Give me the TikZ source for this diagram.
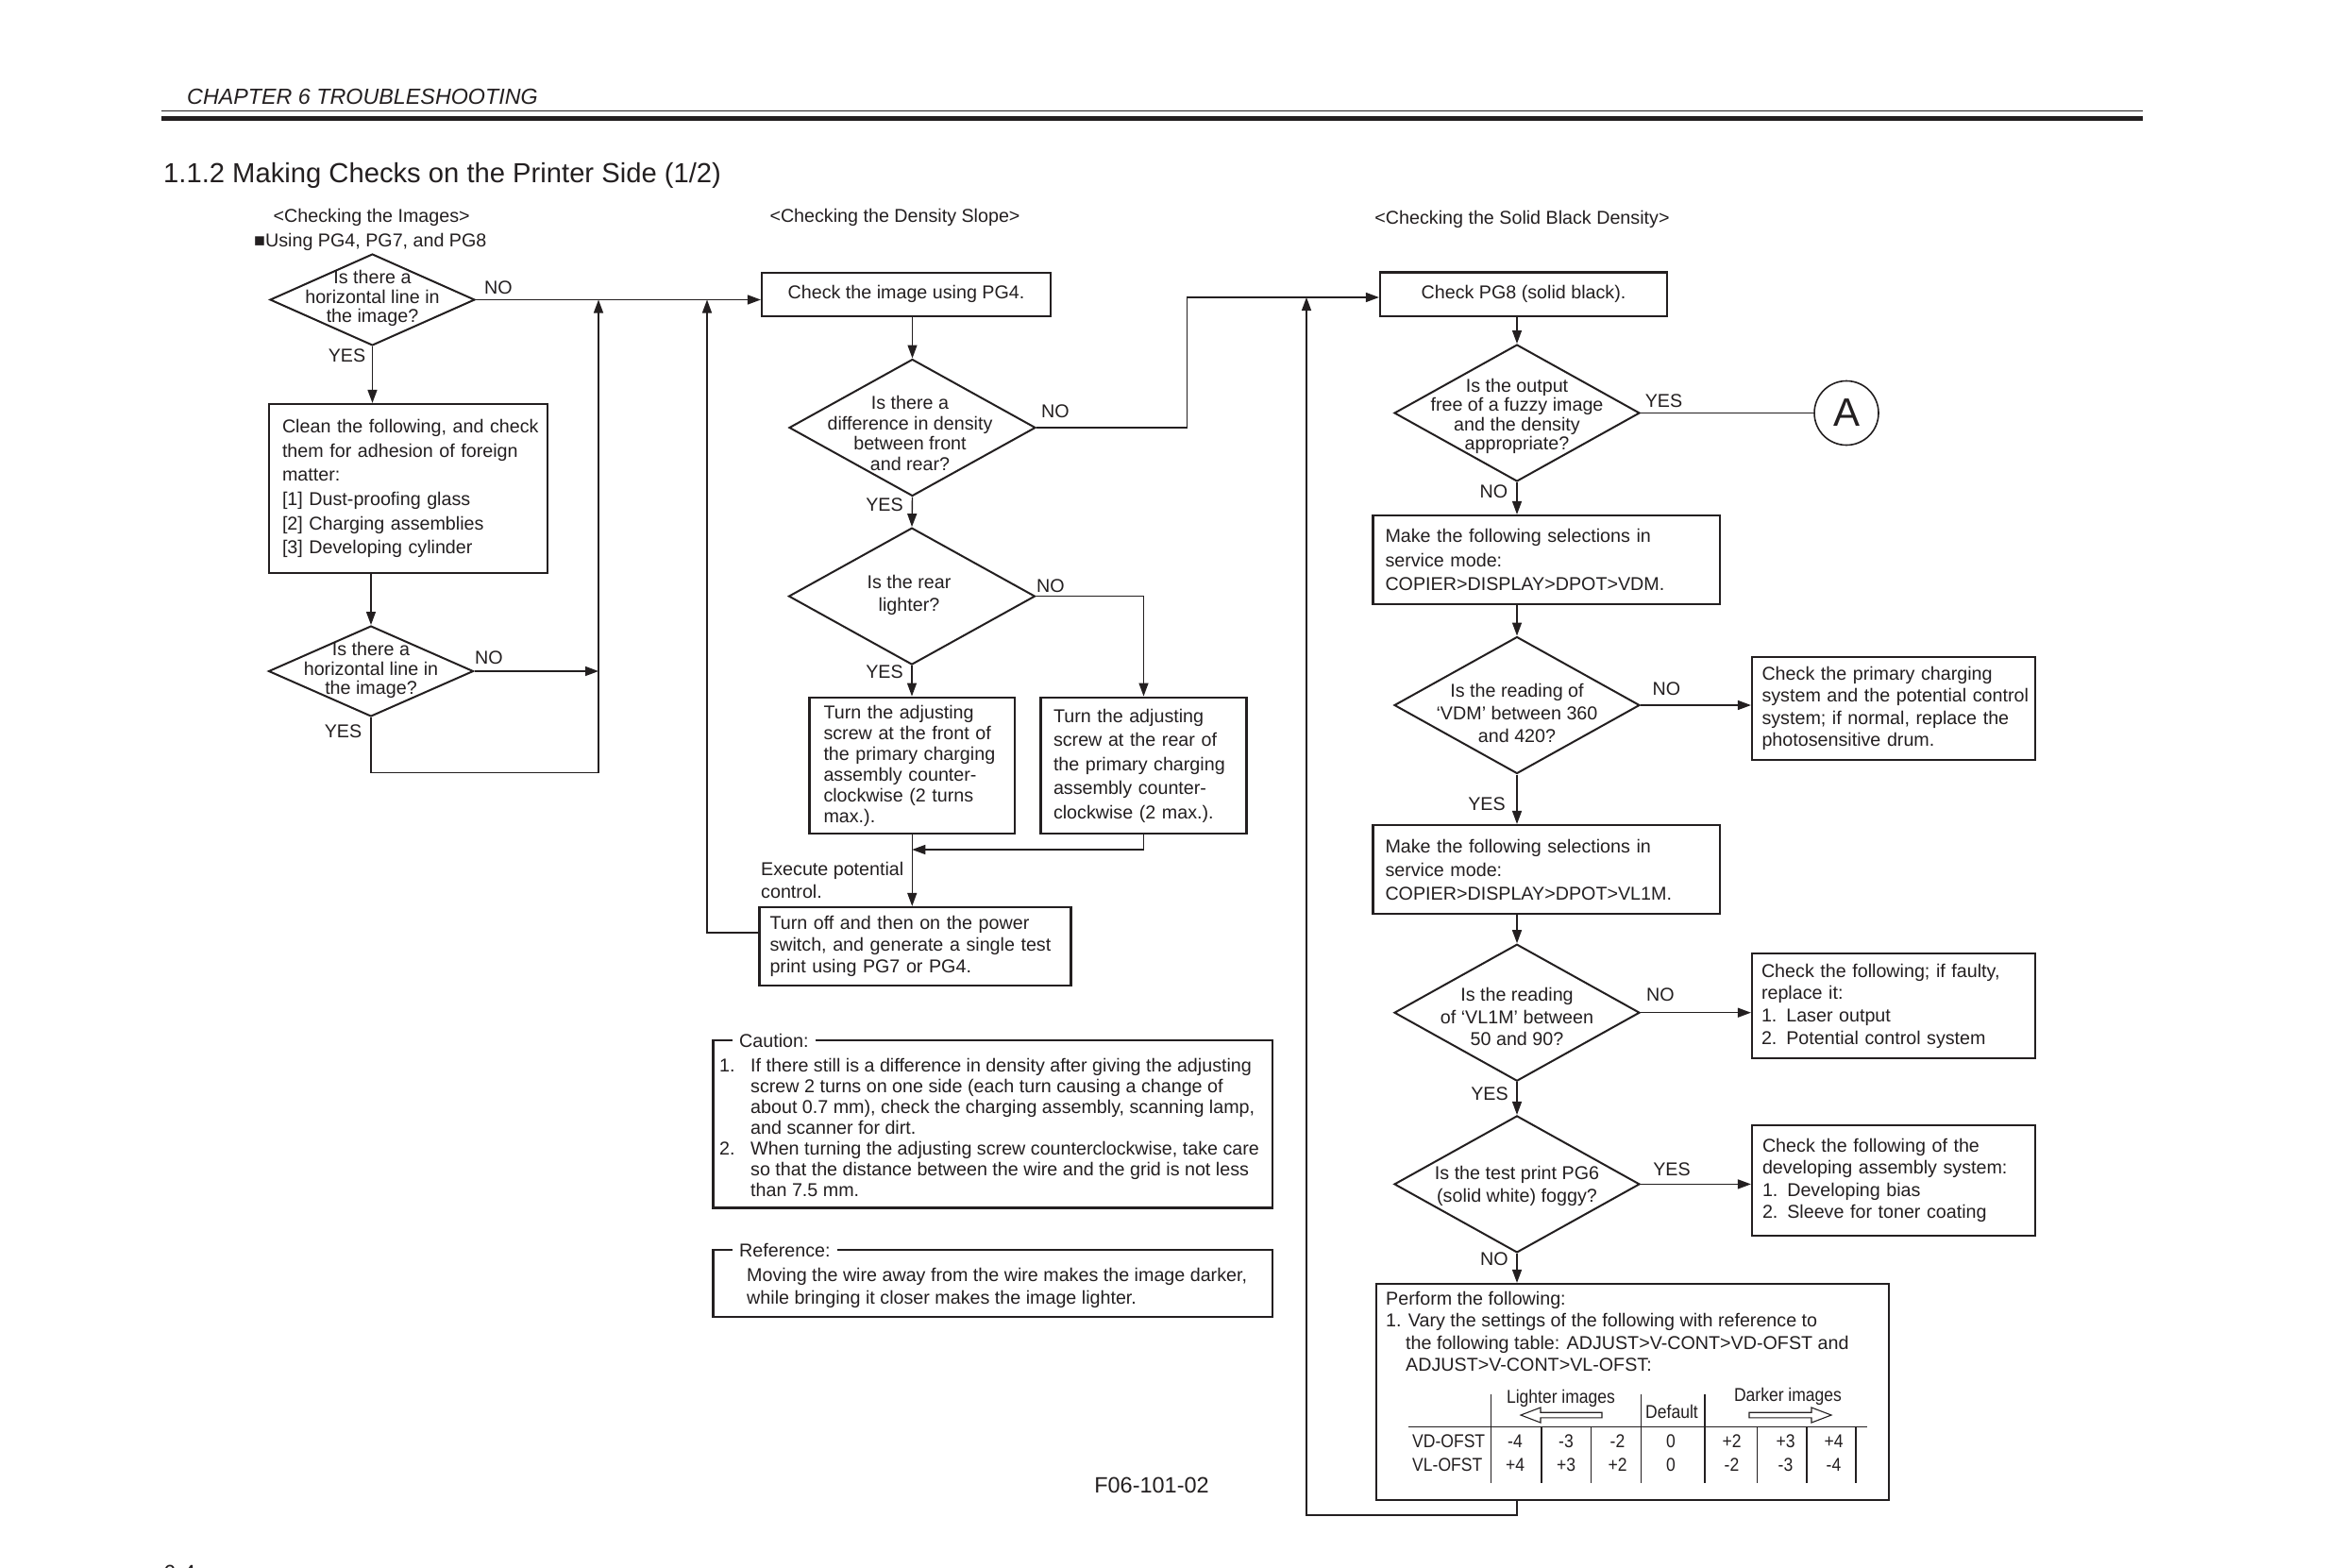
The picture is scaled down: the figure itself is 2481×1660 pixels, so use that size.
\documentclass[tikz,border=0pt]{standalone}
\usepackage{fontspec}
\setmainfont{Liberation Sans}
\newfontfamily\narrowf[FakeStretch=0.89]{Liberation Sans}
\usetikzlibrary{arrows.meta,shapes.geometric}
\definecolor{ink}{RGB}{35,31,32}
\newcommand\fsz[2]{\fontsize{#1}{#2}\selectfont}
\newcommand\nbl[1]{\mbox{#1}}
\tikzset{
  conn/.style={draw=ink, line width=1.4pt},
  arr/.style={conn, -{Triangle[length=14pt,width=10pt]}},
  lab/.style={inner sep=0pt, text=ink, font=\fsz{19.7}{23}},
  box/.style={draw=ink, line width=2.2pt, inner ysep=0pt, align=left, text=ink},
  cbox/.style={draw=ink, line width=2.2pt, inner sep=0pt, align=center, text=ink, font=\fsz{19.7}{23}},
  panel/.style={draw=ink, line width=2.2pt, inner sep=0pt},
  dia/.style={draw=ink, line width=2pt, diamond, inner sep=0pt},
  dtext/.style={align=center, inner sep=0pt, text=ink},
  tab/.style={inner sep=0pt, text=ink, font=\narrowf\fsz{19.7}{23}},
  tline/.style={draw=ink, line width=1.2pt},
}
\begin{document}
\begin{tikzpicture}[x=1pt,y=-1pt]
\useasboundingbox (0,0) rectangle (2481,1660);
\fill[white] (0,0) rectangle (2481,1660);

% header
\node[anchor=base west, inner sep=0pt, text=ink, font=\itshape\fsz{23.3}{26}] (hdr) at (198,110) {CHAPTER 6 TROUBLESHOOTING};
\draw[ink, line width=1.6pt] (171,117.5) -- (2270,117.5);
\draw[ink, line width=5.5pt] (171,125.3) -- (2270,125.3);
\node[anchor=base west, inner sep=0pt, text=ink, font=\fsz{29.2}{32}] (title) at (173,193) {1.1.2 Making Checks on the Printer Side (1/2)};

% section headings
\node[lab, anchor=base] (h1) at (393.7,235) {<Checking the Images>};
\node[lab, anchor=base west] (use) at (269,261.5) {■Using PG4, PG7, and PG8};
\node[lab, anchor=base] (h2) at (948,235) {<Checking the Density Slope>};
\node[lab, anchor=base] (h3) at (1612.5,237) {<Checking the Solid Black Density>};

% ---------- left column ----------
\node[dia, minimum width=217pt, minimum height=97pt] (d1) at (394.5,317.5) {};
\node[dtext, font=\fsz{19.7}{20.6}] (d1t) at (394.5,316.2) {Is there a\\horizontal line in\\the image?};
\node[box, minimum width=295pt, minimum height=179pt, text width=267pt, inner xsep=14pt, font=\fsz{19.7}{25.6}] (b1) at (432.5,517.5)
 {\nbl{Clean the following, and check}\\\nbl{them for adhesion of foreign}\\\nbl{matter:}\\\nbl{[1] Dust-proofing glass}\\\nbl{[2] Charging assemblies}\\\nbl{[3] Developing cylinder}};
\node[dia, minimum width=217pt, minimum height=96pt] (d2) at (393,711) {};
\node[dtext, font=\fsz{19.7}{20.6}] (d2t) at (393,710) {Is there a\\horizontal line in\\the image?};

\node[lab] (n1) at (528,305) {NO};
\node[lab] (y1) at (367.5,377) {YES};
\node[lab] (n2) at (518,697) {NO};
\node[lab] (y2) at (363.5,775) {YES};

% ---------- middle column ----------
\node[cbox, minimum width=306pt, minimum height=46pt] (c1) at (960,311.6) {Check the image using PG4.};
\node[dia, minimum width=261pt, minimum height=145pt] (d3) at (966.5,453) {};
\node[dtext, font=\fsz{19.7}{21.8}] (d3t) at (964,459) {Is there a\\difference in density\\between front\\and rear?};
\node[dia, minimum width=261pt, minimum height=145pt] (d4) at (966,631.6) {};
\node[dtext, font=\fsz{19.7}{24}] (d4t) at (963,630) {Is the rear\\lighter?};
\node[box, minimum width=217.5pt, minimum height=144.7pt, text width=187.5pt, inner xsep=15pt, font=\fsz{19.7}{22}] (b3) at (966.25,811)
 {\nbl{Turn the adjusting}\\\nbl{screw at the front of}\\\nbl{the primary charging}\\\nbl{assembly counter-}\\\nbl{clockwise (2 turns}\\\nbl{max.).}};
\node[box, minimum width=218pt, minimum height=144.7pt, text width=191pt, inner xsep=13.5pt, font=\fsz{19.7}{25.5}] (b4) at (1211.5,811)
 {\nbl{Turn the adjusting}\\\nbl{screw at the rear of}\\\nbl{the primary charging}\\\nbl{assembly counter-}\\\nbl{clockwise (2 max.).}};
\node[lab, anchor=north west, align=left, font=\fsz{19.7}{24}] (ex) at (806,913.5) {Execute potential\\control.};
\node[box, minimum width=330pt, minimum height=83pt, text width=308pt, inner xsep=11pt, font=\fsz{19.7}{23}] (b5) at (969.5,1002.5)
 {\nbl{Turn off and then on the power}\\\nbl{switch, and generate a single test}\\\nbl{print using PG7 or PG4.}};

\node[lab] (n3) at (1118,436) {NO};
\node[lab] (y3) at (937,535) {YES};
\node[lab] (n4) at (1113,621) {NO};
\node[lab] (y4) at (937,711.6) {YES};

% caution / reference
\node[panel, minimum width=592.5pt, minimum height=177.5pt] (cau) at (1051.75,1190.75) {};
\node[lab, fill=white, inner xsep=7pt, inner ysep=2pt, anchor=west] (caul) at (776,1102) {Caution:};
\node[lab, anchor=north west, align=left, font=\fsz{19.7}{21.9}] (caut) at (762,1121.5)
 {\makebox[33pt][l]{1.}If there still is a difference in density after giving the adjusting\\
  \hspace*{33pt}screw 2 turns on one side (each turn causing a change of\\
  \hspace*{33pt}about 0.7 mm), check the charging assembly, scanning lamp,\\
  \hspace*{33pt}and scanner for dirt.\\
  \makebox[33pt][l]{2.}When turning the adjusting screw counterclockwise, take care\\
  \hspace*{33pt}so that the distance between the wire and the grid is not less\\
  \hspace*{33pt}than 7.5 mm.};
\node[panel, minimum width=592.5pt, minimum height=70.8pt] (ref) at (1051.75,1359.4) {};
\node[lab, fill=white, inner xsep=7pt, inner ysep=2pt, anchor=west] (refl) at (776,1324) {Reference:};
\node[lab, anchor=north west, align=left, font=\fsz{19.7}{24}] (reft) at (791,1343.5)
 {Moving the wire away from the wire makes the image darker,\\while bringing it closer makes the image lighter.};

\node[inner sep=0pt, text=ink, font=\fsz{23.5}{26}] (fig) at (1220,1573.6) {F06-101-02};
\node[anchor=base west, inner sep=0pt, text=ink, font=\fsz{23.5}{26}] (pgn) at (173,1674) {6-4};

% ---------- right column ----------
\node[cbox, minimum width=304pt, minimum height=46.4pt] (p8) at (1614,311.6) {Check PG8 (solid black).};
\node[dia, minimum width=260pt, minimum height=145pt] (d5) at (1607,437.5) {};
\node[dtext, font=\fsz{19.7}{20.5}] (d5t) at (1607,441) {Is the output\\free of a fuzzy image\\and the density\\appropriate?};
\node[draw=ink, circle, line width=1.6pt, minimum size=68pt, inner sep=0pt, text=ink, font=\fsz{42}{44}] (ca) at (1956,437.5) {A};
\node[box, minimum width=367.5pt, minimum height=94pt, text width=341.5pt, inner xsep=13pt, font=\fsz{19.7}{25.7}] (b6) at (1638.25,593)
 {\nbl{Make the following selections in}\\\nbl{service mode:}\\\nbl{COPIER>DISPLAY>DPOT>VDM.}};
\node[dia, minimum width=260pt, minimum height=145pt] (d6) at (1607,747) {};
\node[dtext, font=\fsz{19.7}{24.2}] (d6t) at (1607,755.5) {Is the reading of\\‘VDM’ between 360\\and 420?};
\node[box, minimum width=300pt, minimum height=109pt, text width=279pt, inner xsep=10.5pt, font=\fsz{19.7}{23.4}] (b7) at (2006,750.5)
 {\nbl{Check the primary charging}\\\nbl{system and the potential control}\\\nbl{system; if normal, replace the}\\\nbl{photosensitive drum.}};
\node[box, minimum width=367.5pt, minimum height=94pt, text width=341.5pt, inner xsep=13pt, font=\fsz{19.7}{25}] (b8) at (1638.25,921)
 {\nbl{Make the following selections in}\\\nbl{service mode:}\\\nbl{COPIER>DISPLAY>DPOT>VL1M.}};
\node[dia, minimum width=260pt, minimum height=145pt] (d7) at (1607,1072.7) {};
\node[dtext, font=\fsz{19.7}{23.5}] (d7t) at (1607,1077) {Is the reading\\of ‘VL1M’ between\\50 and 90?};
\node[box, minimum width=300pt, minimum height=111pt, text width=280pt, inner xsep=10pt, font=\fsz{19.7}{23.7}] (b9) at (2006,1065.5)
 {\nbl{Check the following; if faulty,}\\\nbl{replace it:}\\\nbl{1. Laser output}\\\nbl{2. Potential control system}};
\node[dia, minimum width=260pt, minimum height=145pt] (d8) at (1607,1254.4) {};
\node[dtext, font=\fsz{19.7}{24}] (d8t) at (1607,1256) {Is the test print PG6\\(solid white) foggy?};
\node[box, minimum width=300pt, minimum height=117pt, text width=278pt, inner xsep=11pt, font=\fsz{19.7}{23.4}] (b10) at (2006,1250.5)
 {\nbl{Check the following of the}\\\nbl{developing assembly system:}\\\nbl{1. Developing bias}\\\nbl{2. Sleeve for toner coating}};
\node[panel, minimum width=542.8pt, minimum height=229pt] (b11) at (1729.4,1474.5) {};
\node[lab, anchor=north west, align=left, font=\fsz{19.7}{23.5}] (b11t) at (1468,1368)
 {Perform the following:\\1. Vary the settings of the following with reference to\\
  \hspace*{21pt}the following table: ADJUST>V-CONT>VD-OFST and\\
  \hspace*{21pt}ADJUST>V-CONT>VL-OFST:};

\node[lab] (y5) at (1762.5,425) {YES};
\node[lab] (n5) at (1582.5,521) {NO};
\node[lab] (n6) at (1765.5,730) {NO};
\node[lab] (y6) at (1575,851.7) {YES};
\node[lab] (n7) at (1759,1054) {NO};
\node[lab] (y7) at (1578,1158.5) {YES};
\node[lab] (y8) at (1771,1239) {YES};
\node[lab] (n8) at (1583,1334) {NO};

% table
\draw[tline] (1492,1511.5) -- (1978,1511.5);
\foreach \x in {1579.6,1738.6,1806} \draw[tline] (\x,1477) -- (\x,1571.4);
\foreach \x in {1633,1685.7,1861.7,1914,1966} \draw[tline] (\x,1511.5) -- (\x,1571.4);
\draw[tline, line width=1.1pt] (1611,1499) -- (1632,1491) -- (1632,1496.2) -- (1697,1496.2) -- (1697,1501.8) -- (1632,1501.8) -- (1632,1507) -- cycle;
\draw[tline, line width=1.1pt] (1940,1499) -- (1919,1491) -- (1919,1496.2) -- (1853,1496.2) -- (1853,1501.8) -- (1919,1501.8) -- (1919,1507) -- cycle;
\node[tab] (lt) at (1653.5,1481) {Lighter images};
\node[tab] (dft) at (1771,1495) {Default};
\node[tab] (dk) at (1894,1479) {Darker images};
\node[tab, anchor=west] (vd) at (1496,1527) {VD-OFST};
\node[tab, anchor=west] (vl) at (1496,1551.5) {VL-OFST};
\foreach \x/\a/\b [count=\i] in {1605/-4/+4, 1659/-3/+3, 1713.5/-2/+2, 1770/0/0, 1834.5/+2/-2, 1891.5/+3/-3, 1942.5/+4/-4}
 { \node[tab] (va\i) at (\x,1527) {\a}; \node[tab] (vb\i) at (\x,1551.5) {\b}; }

% ---------- connectors ----------
\coordinate (j1) at (634,317.5);
\coordinate (j2) at (749,317.5);
\coordinate (lb) at (634,818.6);
\coordinate (mg) at (966.25,900);
\coordinate (j3) at (1257.5,315);
\coordinate (j4) at (1384,315);
\coordinate (fb2) at (1384,1605);

\draw[arr] (d1.east) -- (d1.east -| c1.west);
\draw[arr] (d1.south) -- (d1.south |- b1.north);
\draw[arr] (b1.south -| d2.north) -- (d2.north);
\draw[arr] (d2.east) -- (d2.east -| j1);
\draw[arr] (d2.south) |- (lb) -- (j1);

\draw[arr] (c1.south -| d3.north) -- (d3.north);
\draw[arr] (d3.south) -- (d4.north);
\draw[arr] (d4.south) -- (d4.south |- b3.north);
\draw[arr] (d4.east) -| (b4.north);
\draw[arr] (b3.south) -- (b3.south |- b5.north);
\draw[arr] (b4.south) |- (mg);
\draw[arr] ([yshift=14.5pt]b5.west) -| (j2);
\draw[arr] (d3.east) -| (j3) -- (j3 -| p8.west);

\draw[arr] (p8.south -| d5.north) -- (d5.north);
\draw[conn] (d5.east) -- (ca.west);
\draw[arr] (d5.south) -- (d5.south |- b6.north);
\draw[arr] (b6.south -| d6.north) -- (d6.north);
\draw[arr] (d6.east) -- (d6.east -| b7.west);
\draw[arr] (d6.south) -- (d6.south |- b8.north);
\draw[arr] (b8.south -| d7.north) -- (d7.north);
\draw[arr] (d7.east) -- (d7.east -| b9.west);
\draw[arr] (d7.south) -- (d8.north);
\draw[arr] (d8.east) -- (d8.east -| b10.west);
\draw[arr] (d8.south) -- (d8.south |- b11.north);
\draw[arr] (b11.south -| d8.south) |- (fb2) -- (j4);
\end{tikzpicture}
\end{document}
